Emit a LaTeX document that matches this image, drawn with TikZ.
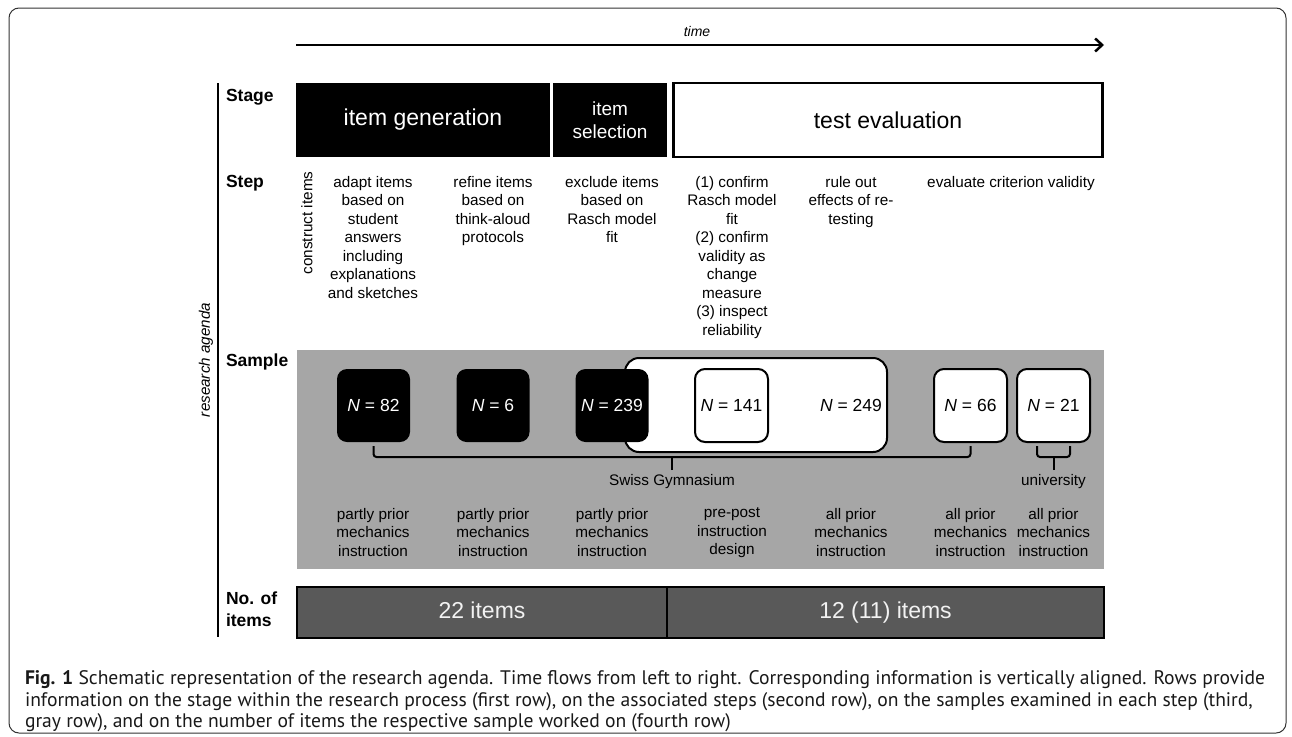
\documentclass[tikz,border=0pt]{standalone}
\usepackage{fontspec}
\setmainfont{Liberation Sans}
\newfontfamily\capfont{PT Sans}
\usetikzlibrary{arrows.meta}

\definecolor{samplegray}{RGB}{166,166,166}
\definecolor{itemgray}{RGB}{89,89,89}
\newcommand{\smalltxt}{\fontsize{15.3}{18.5}\selectfont}

\begin{document}
\begin{tikzpicture}[x=1pt,y=-1pt,
  every node/.style={inner sep=0pt,outer sep=0pt},
  rowlabel/.style={anchor=west,align=left,font=\fontsize{17.5}{22}\selectfont\bfseries},
  stagebox/.style={fill=black,text=white,minimum height=74pt,align=center,font=\fontsize{23}{23}\selectfont},
  steptext/.style={anchor=north,align=center,font=\smalltxt},
  nbox/.style={fill=black,text=white,rounded corners=10pt,minimum width=73pt,minimum height=73pt,font=\fontsize{17.5}{21}\selectfont},
  nopen/.style={nbox,draw=black,line width=2pt,fill=white,text=black},
  itembox/.style={draw=black,line width=2pt,fill=itemgray,text=white!95!black,minimum height=51pt,
    text height=16.5pt,text depth=4.5pt,font=\fontsize{23}{23}\selectfont},
  brace/.style={line width=2pt,rounded corners=3pt}]
\useasboundingbox (0,0) rectangle (1292,736);

\draw[line width=1pt,black!80,rounded corners=10pt] (9,8) rectangle (1286,733);

% time axis
\coordinate (t0) at (296,45);
\coordinate (t1) at (1104,45);
\draw[line width=2.5pt,-{Straight Barb[length=7pt,width=13pt]}] (t0) -- (t1);
\node[font=\fontsize{14}{16}\selectfont\itshape] (time) at (697,31) {time};

\draw[line width=2pt] (218,83) -- (218,637);
\node[rotate=90,font=\fontsize{15.2}{18}\selectfont\itshape] (agenda) at (206,360) {research agenda};

\node[rowlabel] (lstage) at (226,97) {Stage};
\node[rowlabel] (lstep) at (226,183) {Step};
\node[rowlabel] (lsample) at (226,362) {Sample};
\node[rowlabel] (litems) at (226,609) {No. of\\items};

% stages
\node[stagebox,minimum width=254pt] (gen) at (423,120) {item generation};
\node[stagebox,minimum width=114pt,font=\fontsize{19}{23}\selectfont] (sel) at (610,120) {item\\selection};
\node[stagebox,minimum width=429pt,draw=black,line width=2.5pt,fill=white,text=black] (eval) at (888,120) {test evaluation};

% steps
\node[rotate=90,font=\smalltxt] (construct) at (307,223) {construct items};
\node[steptext] (adapt) at (373,176) {adapt items\\based on\\student\\answers\\including\\explanations\\and sketches};
\node[steptext] (refine) at (493,176) {refine items\\based on\\think-aloud\\protocols};
\node[steptext] (exclude) at (612,176) {exclude items\\based on\\Rasch model\\fit};
\node[steptext] (confirm) at (732,176) {(1) confirm\\Rasch model\\fit\\(2) confirm\\validity as\\change\\measure\\(3) inspect\\reliability};
\node[steptext] (ruleout) at (851,176) {rule out\\effects of re-\\testing};
\node[steptext] (criterion) at (1011,176) {evaluate criterion validity};

% samples
\fill[samplegray] (297,350) rectangle (1104,569);
\draw[line width=2pt,fill=white,rounded corners=14pt] (625,358) rectangle (887,452);
\node[nbox] (n82) at (373.5,405.5) {\textit{N} = 82};
\node[nbox] (n6) at (493,405.5) {\textit{N} = 6};
\node[nbox] (n239) at (612,405.5) {\textit{N} = 239};
\node[nopen] (n141) at (731.5,405.5) {\textit{N} = 141};
\node[font=\fontsize{17.5}{21}\selectfont] (n249) at (851,405.5) {\textit{N} = 249};
\node[nopen] (n66) at (970.5,405.5) {\textit{N} = 66};
\node[nopen] (n21) at (1053.5,405.5) {\textit{N} = 21};

\node[font=\smalltxt,anchor=north] (swiss) at (672,474) {Swiss Gymnasium};
\node[font=\smalltxt,anchor=north] (univ) at (1053.5,474) {university};
\draw[brace] ([yshift=-4pt]n82.south) -- ++(0,11) -| ([yshift=-4pt]n66.south);
\draw[brace] (swiss.north) ++(0,-4) -- ++(0,-12);
\draw[brace] ([xshift=-16.5pt,yshift=-4pt]n21.south) -- ++(0,11) -| ([xshift=16.5pt,yshift=-4pt]n21.south);
\draw[brace] (univ.north) ++(0,-4) -- ++(0,-12);

\node[steptext] (p82) at (373,508) {partly prior\\mechanics\\instruction};
\node[steptext] (p6) at (493,508) {partly prior\\mechanics\\instruction};
\node[steptext] (p239) at (612,508) {partly prior\\mechanics\\instruction};
\node[steptext] (p141) at (732,508) {pre-post\\instruction\\design};
\node[steptext] (p249) at (851,508) {all prior\\mechanics\\instruction};
\node[steptext] (p66) at (970.5,508) {all prior\\mechanics\\instruction};
\node[steptext] (p21) at (1053.5,508) {all prior\\mechanics\\instruction};

% number of items
\node[itembox,minimum width=370pt] (i22) at (482,612) {22 items};
\node[itembox,minimum width=437pt] (i12) at (885.5,612) {12 (11) items};

\node[anchor=north west,align=left,text=black!90,font=\capfont\fontsize{19.6}{21.5}\selectfont] (caption) at (25,671)
  {\textbf{Fig. 1} Schematic representation of the research agenda. Time flows from left to right. Corresponding information is vertically aligned. Rows provide\\
   information on the stage within the research process (first row), on the associated steps (second row), on the samples examined in each step (third,\\
   gray row), and on the number of items the respective sample worked on (fourth row)};
\end{tikzpicture}
\end{document}
